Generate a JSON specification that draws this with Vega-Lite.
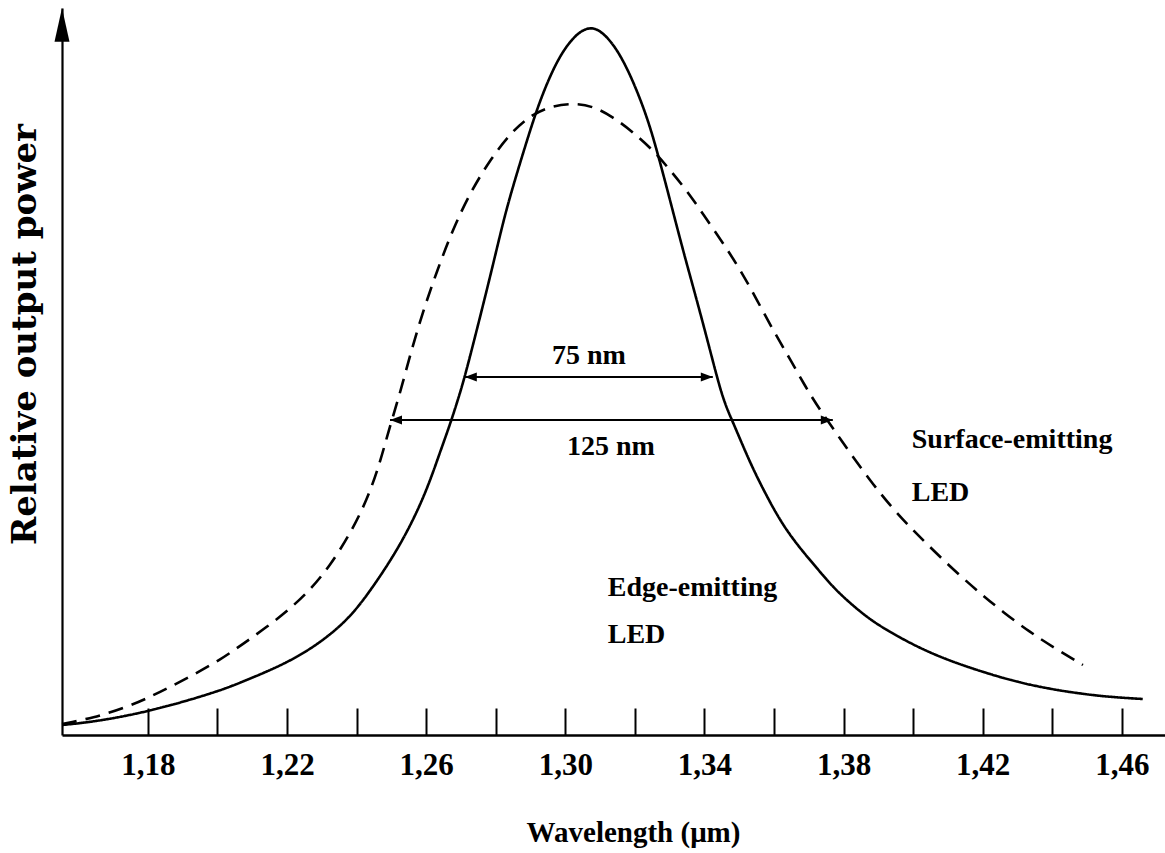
{
  "$schema": "https://vega.github.io/schema/vega-lite/v6.json",
  "width": 1103,
  "height": 727,
  "autosize": {"type": "none"},
  "padding": {"left": 62, "top": 8, "right": 0, "bottom": 118},
  "background": "white",
  "config": {"view": {"stroke": null}, "font": "Liberation Serif"},
  "datasets": {
    "curves": [
      {"s": "edge", "wl": 1.1553, "p": 1.38},
      {"s": "edge", "wl": 1.1642, "p": 1.79},
      {"s": "edge", "wl": 1.18, "p": 3.16},
      {"s": "edge", "wl": 1.1999, "p": 5.91},
      {"s": "edge", "wl": 1.2085, "p": 7.57},
      {"s": "edge", "wl": 1.22, "p": 9.9},
      {"s": "edge", "wl": 1.2295, "p": 12.65},
      {"s": "edge", "wl": 1.2381, "p": 16.1},
      {"s": "edge", "wl": 1.2447, "p": 20.36},
      {"s": "edge", "wl": 1.2504, "p": 24.48},
      {"s": "edge", "wl": 1.2553, "p": 28.61},
      {"s": "edge", "wl": 1.2602, "p": 33.7},
      {"s": "edge", "wl": 1.264, "p": 38.93},
      {"s": "edge", "wl": 1.2668, "p": 42.64},
      {"s": "edge", "wl": 1.2691, "p": 46.08},
      {"s": "edge", "wl": 1.2711, "p": 49.24},
      {"s": "edge", "wl": 1.2755, "p": 57.5},
      {"s": "edge", "wl": 1.2792, "p": 64.65},
      {"s": "edge", "wl": 1.2826, "p": 71.53},
      {"s": "edge", "wl": 1.2855, "p": 76.34},
      {"s": "edge", "wl": 1.289, "p": 81.84},
      {"s": "edge", "wl": 1.2927, "p": 87.35},
      {"s": "edge", "wl": 1.2976, "p": 92.85},
      {"s": "edge", "wl": 1.3022, "p": 96.01},
      {"s": "edge", "wl": 1.3062, "p": 97.39},
      {"s": "edge", "wl": 1.3099, "p": 97.11},
      {"s": "edge", "wl": 1.3148, "p": 94.5},
      {"s": "edge", "wl": 1.3194, "p": 90.1},
      {"s": "edge", "wl": 1.3235, "p": 85.01},
      {"s": "edge", "wl": 1.3263, "p": 80.47},
      {"s": "edge", "wl": 1.3301, "p": 73.59},
      {"s": "edge", "wl": 1.3338, "p": 66.71},
      {"s": "edge", "wl": 1.3378, "p": 59.83},
      {"s": "edge", "wl": 1.3416, "p": 52.96},
      {"s": "edge", "wl": 1.3453, "p": 46.08},
      {"s": "edge", "wl": 1.3482, "p": 43.05},
      {"s": "edge", "wl": 1.3531, "p": 37.41},
      {"s": "edge", "wl": 1.358, "p": 32.74},
      {"s": "edge", "wl": 1.3625, "p": 28.89},
      {"s": "edge", "wl": 1.3674, "p": 25.72},
      {"s": "edge", "wl": 1.3723, "p": 22.97},
      {"s": "edge", "wl": 1.3769, "p": 20.36},
      {"s": "edge", "wl": 1.3818, "p": 18.16},
      {"s": "edge", "wl": 1.3867, "p": 16.23},
      {"s": "edge", "wl": 1.3913, "p": 14.72},
      {"s": "edge", "wl": 1.4011, "p": 12.1},
      {"s": "edge", "wl": 1.4106, "p": 10.18},
      {"s": "edge", "wl": 1.42, "p": 8.67},
      {"s": "edge", "wl": 1.4298, "p": 7.29},
      {"s": "edge", "wl": 1.4393, "p": 6.33},
      {"s": "edge", "wl": 1.4488, "p": 5.64},
      {"s": "edge", "wl": 1.4565, "p": 5.23},
      {"s": "edge", "wl": 1.466, "p": 4.95},
      {"s": "surface", "wl": 1.1553, "p": 1.51},
      {"s": "surface", "wl": 1.1642, "p": 2.34},
      {"s": "surface", "wl": 1.174, "p": 3.85},
      {"s": "surface", "wl": 1.1806, "p": 5.23},
      {"s": "surface", "wl": 1.1863, "p": 6.6},
      {"s": "surface", "wl": 1.193, "p": 8.25},
      {"s": "surface", "wl": 1.2007, "p": 10.32},
      {"s": "surface", "wl": 1.2073, "p": 12.51},
      {"s": "surface", "wl": 1.2142, "p": 14.86},
      {"s": "surface", "wl": 1.2208, "p": 17.33},
      {"s": "surface", "wl": 1.2266, "p": 19.94},
      {"s": "surface", "wl": 1.2323, "p": 23.25},
      {"s": "surface", "wl": 1.2381, "p": 27.65},
      {"s": "surface", "wl": 1.243, "p": 32.32},
      {"s": "surface", "wl": 1.2467, "p": 37.41},
      {"s": "surface", "wl": 1.249, "p": 41.54},
      {"s": "surface", "wl": 1.2525, "p": 47.04},
      {"s": "surface", "wl": 1.2553, "p": 52.14},
      {"s": "surface", "wl": 1.2591, "p": 58.32},
      {"s": "surface", "wl": 1.2631, "p": 63.82},
      {"s": "surface", "wl": 1.2677, "p": 69.6},
      {"s": "surface", "wl": 1.2726, "p": 74.55},
      {"s": "surface", "wl": 1.2783, "p": 79.09},
      {"s": "surface", "wl": 1.2841, "p": 82.67},
      {"s": "surface", "wl": 1.289, "p": 84.87},
      {"s": "surface", "wl": 1.2947, "p": 86.38},
      {"s": "surface", "wl": 1.3022, "p": 86.93},
      {"s": "surface", "wl": 1.3079, "p": 86.52},
      {"s": "surface", "wl": 1.3137, "p": 85.01},
      {"s": "surface", "wl": 1.3194, "p": 82.95},
      {"s": "surface", "wl": 1.3252, "p": 80.47},
      {"s": "surface", "wl": 1.3301, "p": 77.72},
      {"s": "surface", "wl": 1.335, "p": 74.83},
      {"s": "surface", "wl": 1.3396, "p": 71.66},
      {"s": "surface", "wl": 1.3453, "p": 67.68},
      {"s": "surface", "wl": 1.3502, "p": 64.09},
      {"s": "surface", "wl": 1.3551, "p": 59.83},
      {"s": "surface", "wl": 1.3597, "p": 55.71},
      {"s": "surface", "wl": 1.3646, "p": 51.72},
      {"s": "surface", "wl": 1.3689, "p": 48.01},
      {"s": "surface", "wl": 1.3732, "p": 44.7},
      {"s": "surface", "wl": 1.3781, "p": 41.4},
      {"s": "surface", "wl": 1.3827, "p": 38.24},
      {"s": "surface", "wl": 1.3884, "p": 34.52},
      {"s": "surface", "wl": 1.3942, "p": 31.09},
      {"s": "surface", "wl": 1.3999, "p": 28.2},
      {"s": "surface", "wl": 1.4057, "p": 25.45},
      {"s": "surface", "wl": 1.4126, "p": 22.28},
      {"s": "surface", "wl": 1.4192, "p": 19.53},
      {"s": "surface", "wl": 1.4258, "p": 16.92},
      {"s": "surface", "wl": 1.4335, "p": 14.17},
      {"s": "surface", "wl": 1.4402, "p": 12.1},
      {"s": "surface", "wl": 1.4488, "p": 9.63}
    ],
    "arrows": [
      {"width": "75 nm", "wl": 1.2711, "wl2": 1.3424, "p": 49.24},
      {"width": "125 nm", "wl": 1.2496, "wl2": 1.3769, "p": 43.33}
    ],
    "heads": [
      {"wl": 1.2711, "p": 49.24, "dir": "left"},
      {"wl": 1.3424, "p": 49.24, "dir": "right"},
      {"wl": 1.2496, "p": 43.33, "dir": "left"},
      {"wl": 1.3769, "p": 43.33, "dir": "right"}
    ],
    "midlabels": [
      {"label": "75 nm", "wl": 1.3068, "p": 52.1},
      {"label": "125 nm", "wl": 1.3131, "p": 39.6}
    ],
    "sidelabels": [
      {"label": "Surface-emitting", "wl": 1.3996, "p": 40.6},
      {"label": "LED", "wl": 1.3996, "p": 33.3},
      {"label": "Edge-emitting", "wl": 1.3122, "p": 20.2},
      {"label": "LED", "wl": 1.3122, "p": 13.8}
    ]
  },
  "layer": [
    {
      "data": {"name": "curves"},
      "mark": {"type": "line", "color": "black", "strokeWidth": 2.6, "interpolate": "basis"},
      "encoding": {
        "x": {
          "field": "wl", "type": "quantitative", "title": "Wavelength (μm)",
          "scale": {"domain": [1.1553, 1.4724], "nice": false, "zero": false},
          "axis": {
            "values": [1.18, 1.2, 1.22, 1.24, 1.26, 1.28, 1.3, 1.32, 1.34, 1.36, 1.38, 1.4, 1.42, 1.44, 1.46],
            "labelExpr": "(round(datum.value*100) - 18) % 4 == 0 ? replace(format(datum.value, '.2f'), '.', ',') : ''",
            "grid": false,
            "tickSize": -27, "tickWidth": 2, "tickColor": "black",
            "domainColor": "black", "domainWidth": 2.6,
            "labelFont": "Liberation Serif", "labelFontWeight": "bold", "labelFontSize": 31, "labelColor": "black",
            "labelPadding": 57, "labelBaseline": "middle", "labelOverlap": false, "labelFlush": false,
            "titleFont": "Liberation Serif", "titleFontWeight": "bold", "titleFontSize": 29, "titleColor": "black",
            "titleX": 571, "titleY": 97, "titleBaseline": "middle", "titleAlign": "center"
          }
        },
        "y": {
          "field": "p", "type": "quantitative", "title": "Relative output power",
          "scale": {"domain": [0, 100], "nice": false, "zero": true},
          "axis": {
            "grid": false, "ticks": false, "labels": false,
            "domainColor": "black", "domainWidth": 2.2,
            "titleFont": "DejaVu Serif", "titleFontWeight": "bold", "titleFontSize": 34, "titleColor": "black",
            "titleAngle": 270, "titleX": -37, "titleY": 326, "titleBaseline": "middle", "titleAlign": "center"
          }
        },
        "strokeDash": {
          "field": "s", "type": "nominal",
          "scale": {"domain": ["edge", "surface"], "range": [[1, 0], [15, 9]]},
          "legend": null
        }
      }
    },
    {
      "data": {"name": "arrows"},
      "mark": {"type": "rule", "color": "black", "strokeWidth": 2},
      "encoding": {
        "x": {"field": "wl", "type": "quantitative"},
        "x2": {"field": "wl2"},
        "y": {"field": "p", "type": "quantitative"}
      }
    },
    {
      "data": {"name": "heads"},
      "mark": {"type": "point", "filled": true, "size": 144, "color": "black", "opacity": 1},
      "encoding": {
        "x": {"field": "wl", "type": "quantitative"},
        "y": {"field": "p", "type": "quantitative"},
        "shape": {
          "field": "dir", "type": "nominal",
          "scale": {"domain": ["left", "right"], "range": ["M0,0L2,-0.75L2,0.75Z", "M0,0L-2,-0.75L-2,0.75Z"]},
          "legend": null
        }
      }
    },
    {
      "data": {"values": [{"wl": 1.1553, "p": 100}]},
      "mark": {"type": "point", "filled": true, "size": 225, "color": "black", "opacity": 1, "shape": "M0,0L1,4.5L-1,4.5Z"},
      "encoding": {
        "x": {"field": "wl", "type": "quantitative"},
        "y": {"field": "p", "type": "quantitative"}
      }
    },
    {
      "data": {"name": "midlabels"},
      "mark": {"type": "text", "font": "Liberation Serif", "fontWeight": "bold", "fontSize": 28, "color": "black", "align": "center", "baseline": "middle"},
      "encoding": {
        "x": {"field": "wl", "type": "quantitative"},
        "y": {"field": "p", "type": "quantitative"},
        "text": {"field": "label"}
      }
    },
    {
      "data": {"name": "sidelabels"},
      "mark": {"type": "text", "font": "Liberation Serif", "fontWeight": "bold", "fontSize": 28, "color": "black", "align": "left", "baseline": "middle"},
      "encoding": {
        "x": {"field": "wl", "type": "quantitative"},
        "y": {"field": "p", "type": "quantitative"},
        "text": {"field": "label"}
      }
    }
  ]
}
